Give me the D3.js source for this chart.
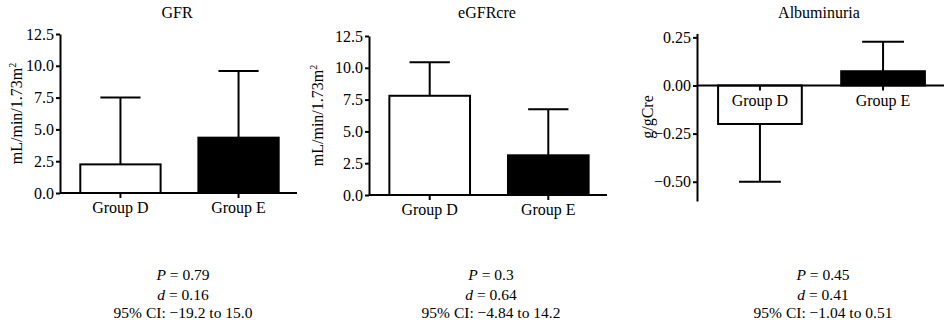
<!DOCTYPE html>
<html>
<head>
<meta charset="utf-8">
<script src="https://cdn.jsdelivr.net/npm/d3@7"></script>
<style>
  body { margin: 0; background: #fff; }
  svg { display: block; font-family: "Liberation Serif", "Times New Roman", serif; }
  .domain, .tick line { stroke: #000; stroke-width: 2px; }
  .tick text { font-family: "Liberation Serif", "Times New Roman", serif; font-size: 16px; fill: #000; }
</style>
</head>
<body>
<div id="chart"></div>
<script>
var groups = ['Group D', 'Group E'];
var titles = ['GFR', 'eGFRcre', 'Albuminuria'];
var yLabels = ['mL/min/1.73m', 'mL/min/1.73m', 'g/gCre'];

// bar means and the end of the (one-sided) error bar
var gfrMean = [2.25, 4.35];
var gfrErr = [7.5, 9.6];
var egfrMean = [7.8, 3.12];
var egfrErr = [10.43, 6.74];
var albMean = [-0.2, 0.074];
var albErr = [-0.5, 0.227];

var mlTicks = [0, 2.5, 5, 7.5, 10, 12.5];
var albTicks = [-0.5, -0.25, 0, 0.25];

var pValues = ['0.79', '0.3', '0.45'];
var dValues = ['0.16', '0.64', '0.41'];
var ciValues = ['\u221219.2 to 15.0', '\u22124.84 to 14.2', '\u22121.04 to 0.51'];

var svg = d3.select('#chart')
    .append('svg')
    .attr('width', 944)
    .attr('height', 324);

var panels = [
    { mean: gfrMean, err: gfrErr, ticks: mlTicks, fmt: '.1f', domain: [0, 12.5],
      axisX: 60, xRange: [62, 297], yRange: [193, 34], titleX: 177, labelX: 17, statX: 183 },
    { mean: egfrMean, err: egfrErr, ticks: mlTicks, fmt: '.1f', domain: [0, 12.5],
      axisX: 369, xRange: [371, 607], yRange: [195, 36], titleX: 487, labelX: 318, statX: 491 },
    { mean: albMean, err: albErr, ticks: albTicks, fmt: '.2f', domain: [-0.6, 0.27],
      axisX: 697, xRange: [699, 944], yRange: [201, 33.5], titleX: 819, labelX: 648, statX: 823 }
];

panels.forEach((p, i) => {
    var g = svg.append('g');

    var y = d3.scaleLinear().domain(p.domain).range(p.yRange);
    var x = d3.scaleBand()
        .domain(groups)
        .range(p.xRange)
        .paddingInner(0.32)
        .paddingOuter(0.155);

    // bars
    g.selectAll('rect.bar')
        .data(groups)
        .enter()
        .append('rect')
        .attr('class', 'bar')
        .attr('x', d => x(d))
        .attr('width', x.bandwidth())
        .attr('y', (d, j) => y(Math.max(0, p.mean[j])))
        .attr('height', (d, j) => Math.abs(y(p.mean[j]) - y(0)))
        .attr('fill', (d, j) => j === 0 ? '#fff' : '#000')
        .attr('stroke', '#000')
        .attr('stroke-width', 2);

    // error bars
    var cap = x.bandwidth() * 0.5;
    groups.forEach((d, j) => {
        var cx = x(d) + x.bandwidth() / 2;
        g.append('line')
            .attr('x1', cx).attr('x2', cx)
            .attr('y1', y(p.mean[j])).attr('y2', y(p.err[j]))
            .attr('stroke', '#000').attr('stroke-width', 2);
        g.append('line')
            .attr('x1', cx - cap / 2).attr('x2', cx + cap / 2)
            .attr('y1', y(p.err[j])).attr('y2', y(p.err[j]))
            .attr('stroke', '#000').attr('stroke-width', 2);
    });

    // axes
    var yAxis = d3.axisLeft(y)
        .tickValues(p.ticks)
        .tickFormat(d3.format(p.fmt))
        .tickSize(4)
        .tickPadding(2)
        .tickSizeOuter(0);
    g.append('g')
        .attr('transform', `translate(${p.axisX},0)`)
        .call(yAxis);

    var xAxis = d3.axisBottom(x).tickSize(5).tickPadding(4).tickSizeOuter(0);
    var xg = g.append('g')
        .attr('transform', `translate(0,${y(0)})`)
        .call(xAxis);
    xg.select('.domain').attr('d', `M${p.axisX},0H${p.xRange[1]}`);

    // title
    g.append('text')
        .attr('x', p.titleX)
        .attr('y', 18)
        .attr('text-anchor', 'middle')
        .style('font-size', '16px')
        .text(titles[i]);

    // y label
    var midY = (p.yRange[0] + p.yRange[1]) / 2;
    if (i === 2) midY = 117;
    var yl = g.append('text')
        .attr('transform', `translate(${p.labelX + 5},${midY}) rotate(-90)`)
        .attr('text-anchor', 'middle')
        .style('font-size', '16px')
        .text(yLabels[i]);
    if (i < 2) {
        yl.append('tspan').attr('dy', -6).style('font-size', '10px').text('2');
    }

    // stats
    var st = g.append('g')
        .attr('transform', `translate(${p.statX},0)`)
        .style('font-size', '15.5px')
        .attr('text-anchor', 'middle');
    var t1 = st.append('text').attr('y', 280);
    t1.append('tspan').style('font-style', 'italic').text('P');
    t1.append('tspan').text(' = ' + pValues[i]);
    var t2 = st.append('text').attr('y', 300);
    t2.append('tspan').style('font-style', 'italic').text('d');
    t2.append('tspan').text(' = ' + dValues[i]);
    st.append('text').attr('y', 318).text('95% CI: ' + ciValues[i]);
});
</script>
</body>
</html>
